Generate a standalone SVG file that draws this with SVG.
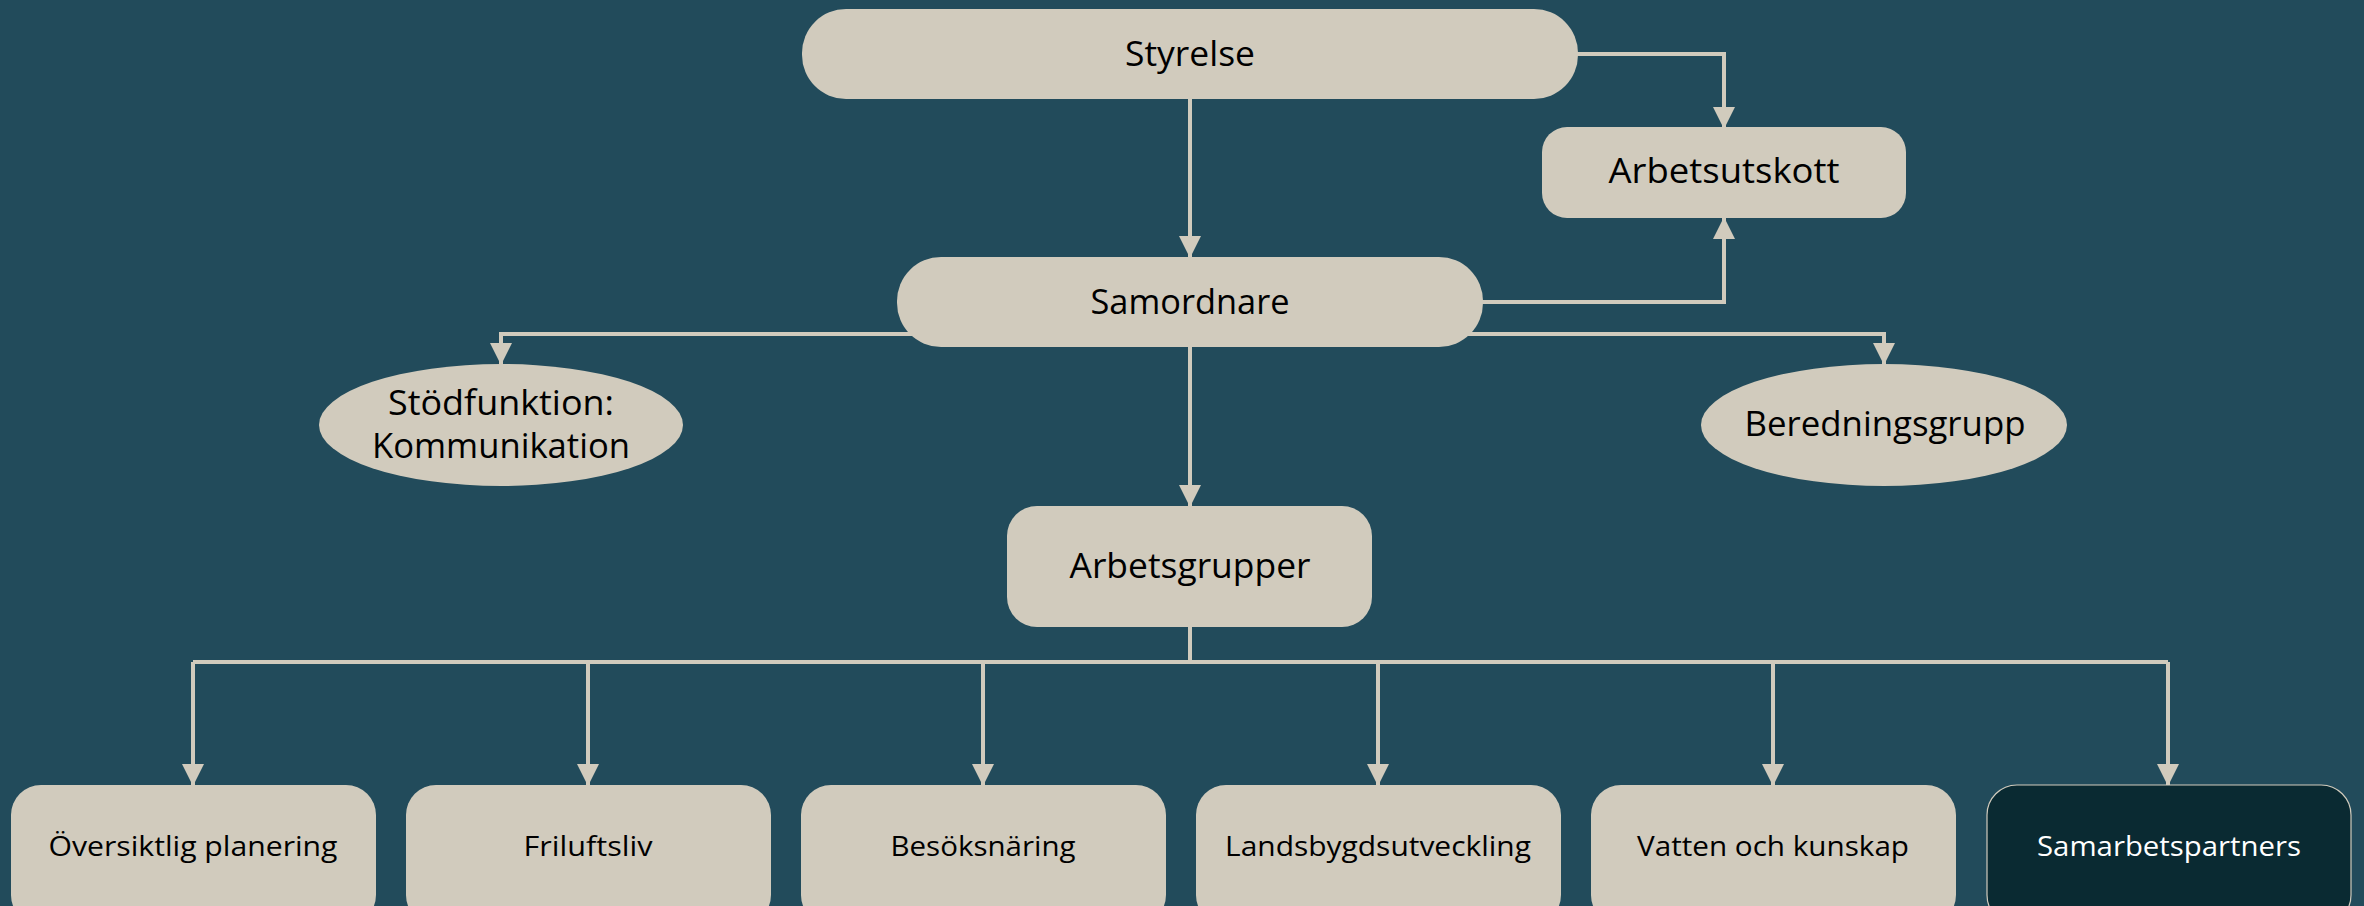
<svg xmlns="http://www.w3.org/2000/svg" width="2364" height="906" viewBox="0 0 2364 906">
<defs>
<style>
.bg{fill:#224b5b}
.n{fill:#d1cbbd}
.dark{fill:#0a2a32;stroke:#d1cbbd;stroke-width:1.2}
.c{fill:none;stroke:#d1cbbd;stroke-width:4}
.t{font-family:"Open Sans","Noto Sans","DejaVu Sans",sans-serif;font-size:35px;fill:#000;text-anchor:middle}
.s{font-family:"Open Sans","Noto Sans","DejaVu Sans",sans-serif;font-size:26.5px;fill:#000;text-anchor:middle}
.w{fill:#ffffff}
</style>
<marker id="ah" markerWidth="22" markerHeight="22" viewBox="0 0 22 22" refX="21" refY="11" orient="auto" markerUnits="userSpaceOnUse">
<path d="M0,0 L22,11 L0,22 Z" fill="#d1cbbd"/>
</marker>
</defs>
<rect class="bg" x="0" y="0" width="2364" height="906"/>
<g id="connectors">
<path class="c" d="M1190,99 V257" marker-end="url(#ah)"/>
<path class="c" d="M1576,54 H1724 V128" marker-end="url(#ah)"/>
<path class="c" d="M1480,302 H1724 V218" marker-end="url(#ah)"/>
<path class="c" d="M920,334 H501 V364" marker-end="url(#ah)"/>
<path class="c" d="M1460,334 H1884 V364" marker-end="url(#ah)"/>
<path class="c" d="M1190,347 V506" marker-end="url(#ah)"/>
<path class="c" d="M1190,627 V662"/>
<path class="c" d="M193,662 H2168"/>
<path class="c" d="M193,662 V785" marker-end="url(#ah)"/>
<path class="c" d="M588,662 V785" marker-end="url(#ah)"/>
<path class="c" d="M983,662 V785" marker-end="url(#ah)"/>
<path class="c" d="M1378,662 V785" marker-end="url(#ah)"/>
<path class="c" d="M1773,662 V785" marker-end="url(#ah)"/>
<path class="c" d="M2168,662 V785" marker-end="url(#ah)"/>
</g>
<g id="styrelse">
<rect class="n" x="802" y="9" width="776" height="90" rx="44"/>
<text class="t" x="1190" y="66" textLength="130" lengthAdjust="spacingAndGlyphs">Styrelse</text>
</g>
<g id="arbetsutskott">
<rect class="n" x="1542" y="127" width="364" height="91" rx="25"/>
<text class="t" x="1724" y="183" textLength="231" lengthAdjust="spacingAndGlyphs">Arbetsutskott</text>
</g>
<g id="samordnare">
<rect class="n" x="897" y="257" width="586" height="90" rx="44"/>
<text class="t" x="1190" y="314" textLength="199" lengthAdjust="spacingAndGlyphs">Samordnare</text>
</g>
<g id="stodfunktion">
<ellipse class="n" cx="501" cy="425" rx="182" ry="61"/>
<text class="t" x="501" y="415" textLength="226" lengthAdjust="spacingAndGlyphs">Stödfunktion:</text>
<text class="t" x="501" y="458" textLength="258" lengthAdjust="spacingAndGlyphs">Kommunikation</text>
</g>
<g id="beredningsgrupp">
<ellipse class="n" cx="1884" cy="425" rx="183" ry="61"/>
<text class="t" x="1885" y="436" textLength="281" lengthAdjust="spacingAndGlyphs">Beredningsgrupp</text>
</g>
<g id="arbetsgrupper">
<rect class="n" x="1007" y="506" width="365" height="121" rx="30"/>
<text class="t" x="1190" y="578" textLength="241" lengthAdjust="spacingAndGlyphs">Arbetsgrupper</text>
</g>
<g id="oversiktlig">
<rect class="n" x="11" y="785" width="365" height="140" rx="30"/>
<text class="s" x="193" y="856" textLength="289" lengthAdjust="spacingAndGlyphs">Översiktlig planering</text>
</g>
<g id="friluftsliv">
<rect class="n" x="406" y="785" width="365" height="140" rx="30"/>
<text class="s" x="588" y="856" textLength="129" lengthAdjust="spacingAndGlyphs">Friluftsliv</text>
</g>
<g id="besoksnaring">
<rect class="n" x="801" y="785" width="365" height="140" rx="30"/>
<text class="s" x="983" y="856" textLength="185" lengthAdjust="spacingAndGlyphs">Besöksnäring</text>
</g>
<g id="landsbygd">
<rect class="n" x="1196" y="785" width="365" height="140" rx="30"/>
<text class="s" x="1378" y="856" textLength="306" lengthAdjust="spacingAndGlyphs">Landsbygdsutveckling</text>
</g>
<g id="vatten">
<rect class="n" x="1591" y="785" width="365" height="140" rx="30"/>
<text class="s" x="1773" y="856" textLength="272" lengthAdjust="spacingAndGlyphs">Vatten och kunskap</text>
</g>
<g id="samarbetspartners">
<rect class="dark" x="1987" y="785" width="364" height="140" rx="30"/>
<text class="s w" x="2169" y="856" textLength="264" lengthAdjust="spacingAndGlyphs">Samarbetspartners</text>
</g>
</svg>
